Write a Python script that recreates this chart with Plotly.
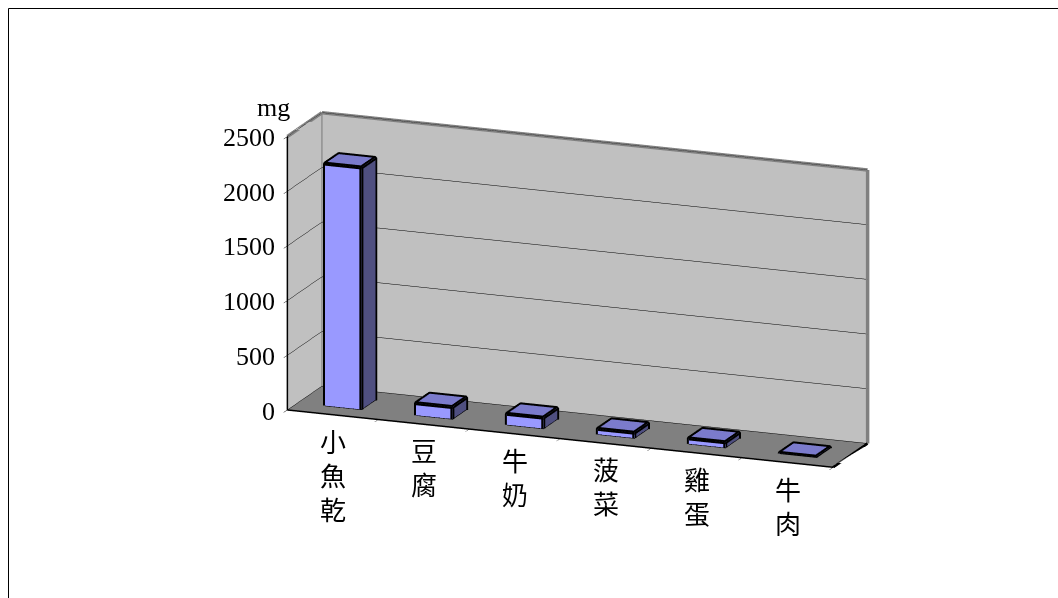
import plotly.graph_objects as go

# Calcium content per food item (mg)
foods = ["小魚乾", "豆腐", "牛奶", "菠菜", "雞蛋", "牛肉"]
calcium_mg = [2213, 110, 100, 50, 50, 5]
z_ticks = [0, 500, 1000, 1500, 2000, 2500]

FRONT = "#9999FF"
SIDE = "#4F4F80"
TOP = "#7B7BCC"
HIDDEN = "#9999FF"

bar_half = 0.2             # half width of a column (category units)
depth0, depth1 = 0.3, 0.7  # column depth inside the floor
x_rng = [-0.5, len(foods) - 0.5]
y_rng = [0, 1]
z_rng = [z_ticks[0], z_ticks[-1]]

# ---- columns as boxes -------------------------------------------------
vx, vy, vz, ti, tj, tk, fcol = [], [], [], [], [], [], []
ex, ey, ez = [], [], []


def quad(a, b, c, d, col, base):
    ti.extend([base + a, base + a])
    tj.extend([base + b, base + c])
    tk.extend([base + c, base + d])
    fcol.extend([col, col])


for idx, val in enumerate(calcium_mg):
    x0, x1 = idx - bar_half, idx + bar_half
    corners = [
        (x0, depth0, 0), (x1, depth0, 0), (x1, depth1, 0), (x0, depth1, 0),
        (x0, depth0, val), (x1, depth0, val), (x1, depth1, val), (x0, depth1, val),
    ]
    base = len(vx)
    for cx, cy, cz in corners:
        vx.append(cx)
        vy.append(cy)
        vz.append(cz)
    quad(0, 1, 5, 4, FRONT, base)   # front
    quad(1, 2, 6, 5, SIDE, base)    # right side
    quad(4, 5, 6, 7, TOP, base)     # top
    quad(3, 2, 6, 7, HIDDEN, base)  # back
    quad(0, 3, 7, 4, HIDDEN, base)  # left
    quad(0, 1, 2, 3, HIDDEN, base)  # bottom
    # visible outline edges
    for path in ([0, 1, 2, 6, 7, 4, 0], [4, 5, 6], [5, 1]):
        for p in path:
            ex.append(corners[p][0])
            ey.append(corners[p][1])
            ez.append(corners[p][2])
        ex.append(None)
        ey.append(None)
        ez.append(None)

bars = go.Mesh3d(
    x=vx, y=vy, z=vz, i=ti, j=tj, k=tk,
    facecolor=fcol, flatshading=True,
    lighting=dict(ambient=1, diffuse=0, specular=0, roughness=1, fresnel=0),
    hoverinfo="skip", showscale=False,
)
edges = go.Scatter3d(
    x=ex, y=ey, z=ez, mode="lines",
    line=dict(color="black", width=8), hoverinfo="skip", showlegend=False,
)

# ---- wall frame edges ---------------------------------------------------
xa, xb = x_rng
ya, yb = y_rng
za, zb = z_rng
wall = go.Scatter3d(
    x=[xa, xb, None, xa, xa, None, xa, xa, None, xb, xb],
    y=[yb, yb, None, ya, yb, None, yb, yb, None, yb, yb],
    z=[zb, zb, None, zb, zb, None, za, zb, None, za, zb],
    mode="lines", line=dict(color="#808080", width=7),
    hoverinfo="skip", showlegend=False,
)
floor_edge = go.Scatter3d(
    x=[xb, xb], y=[ya, yb], z=[za, za],
    mode="lines", line=dict(color="black", width=5),
    hoverinfo="skip", showlegend=False,
)

fig = go.Figure([bars, edges, wall, floor_edge])

serif = "Liberation Serif, Times New Roman, serif"
cjk = "Noto Sans CJK TC, Noto Sans CJK SC, sans-serif"

# category names written vertically under the front edge
annotations = [
    dict(x=i, y=ya, z=za, text="<br>".join(name), showarrow=False,
         xanchor="center", yanchor="top", yshift=-5,
         font=dict(family=cjk, size=26, color="black"))
    for i, name in enumerate(foods)
]
# value labels along the vertical axis
annotations += [
    dict(x=xa, y=ya, z=t, text=str(t), showarrow=False,
         xanchor="right", yanchor="middle", xshift=-11, yshift=-1,
         font=dict(family=serif, size=26, color="black"))
    for t in z_ticks
]
# unit label above the vertical axis
annotations.append(
    dict(x=xa, y=ya, z=zb, text="mg", showarrow=False,
         xanchor="center", yanchor="bottom", xshift=-14, yshift=13,
         font=dict(family=serif, size=26, color="black"))
)

fig.update_layout(
    width=1058, height=598,
    margin=dict(l=0, r=0, t=0, b=0),
    paper_bgcolor="white",
    showlegend=False,
    hovermode=False,
    scene=dict(
        domain=dict(x=[0.092, 1.0], y=[0.030, 1.0]),
        aspectmode="manual",
        aspectratio=dict(x=2.02, y=0.3275, z=0.979),
        camera=dict(
            eye=dict(x=0.350 * 2.0, y=-0.897 * 2.0, z=0.269 * 2.0),
            up=dict(x=0, y=0, z=1),
            center=dict(x=0, y=0, z=0),
            projection=dict(type="orthographic"),
        ),
        xaxis=dict(
            range=x_rng, title=dict(text=""),
            tickvals=[i + 0.5 for i in range(-1, len(foods))],
            showticklabels=False, ticks="outside", ticklen=8, tickcolor="black",
            showgrid=False, zeroline=False, showline=True, linecolor="black", linewidth=3,
            showbackground=True, backgroundcolor="#C0C0C0", showspikes=False,
        ),
        yaxis=dict(
            range=y_rng, title=dict(text=""), showticklabels=False, ticks="",
            showgrid=False, zeroline=False, showline=False,
            showbackground=True, backgroundcolor="#C0C0C0", showspikes=False,
        ),
        zaxis=dict(
            range=z_rng, title=dict(text=""), tickvals=z_ticks,
            showticklabels=False,
            ticks="outside", ticklen=6, tickcolor="black",
            showgrid=True, gridcolor="black", gridwidth=1,
            zeroline=False, showline=True, linecolor="black", linewidth=3,
            showbackground=True, backgroundcolor="#808080", showspikes=False,
        ),
        annotations=annotations,
    ),
    shapes=[dict(type="rect", xref="paper", yref="paper",
                 x0=8.5 / 1058, x1=1.05, y0=-0.05, y1=1 - 8.5 / 598,
                 line=dict(color="black", width=1))],
)

fig.write_html("out.html")
